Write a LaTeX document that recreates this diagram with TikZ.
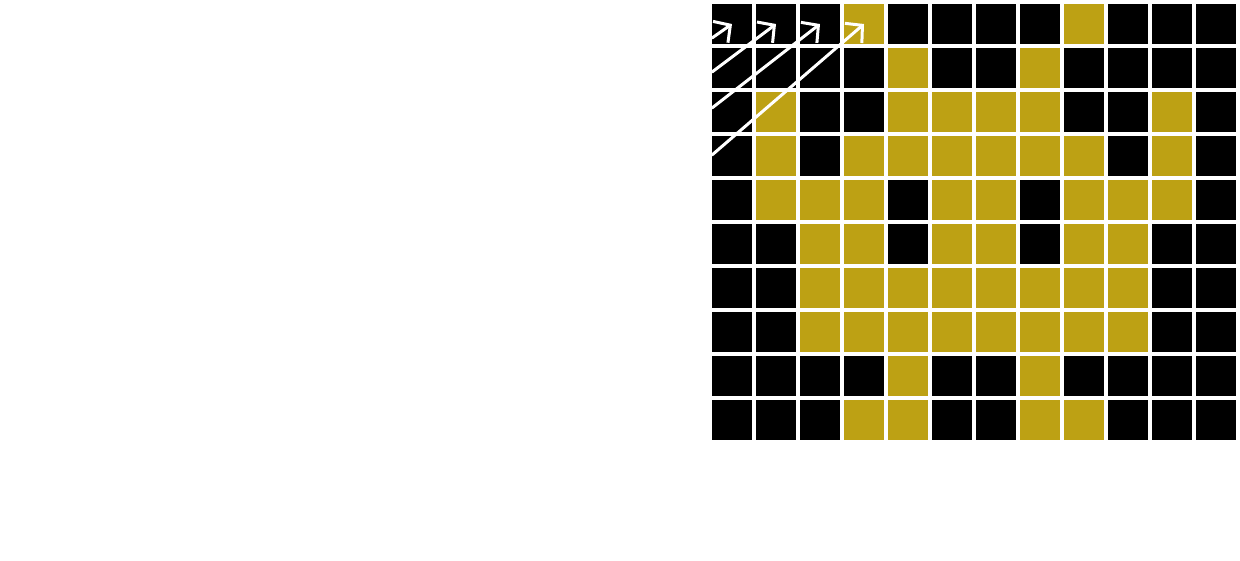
\documentclass[tikz,border=0pt]{standalone}
\usetikzlibrary{arrows.meta}
\definecolor{gold}{RGB}{189,161,20}
\begin{document}
\begin{tikzpicture}[x=1pt,y=-1pt,
  cell/.style={minimum size=40pt,inner sep=0pt,outer sep=0pt,draw=none,fill=black},
  gcell/.style={cell,fill=gold},
  pointer/.style={draw=white,line width=3pt,line cap=round,
    -{Straight Barb[length=12pt,width=26pt,line width=3pt]}}]
\useasboundingbox[fill=white] (0,0) rectangle (1240,560);
\foreach \pat [count=\r from 0] in {
  {0,0,0,1,0,0,0,0,1,0,0,0},
  {0,0,0,0,1,0,0,1,0,0,0,0},
  {0,1,0,0,1,1,1,1,0,0,1,0},
  {0,1,0,1,1,1,1,1,1,0,1,0},
  {0,1,1,1,0,1,1,0,1,1,1,0},
  {0,0,1,1,0,1,1,0,1,1,0,0},
  {0,0,1,1,1,1,1,1,1,1,0,0},
  {0,0,1,1,1,1,1,1,1,1,0,0},
  {0,0,0,0,1,0,0,1,0,0,0,0},
  {0,0,0,1,1,0,0,1,1,0,0,0}}{
  \foreach \v [count=\c from 0] in \pat {
    \ifnum\v=1
      \node[gcell] (c-\r-\c) at ({732+44*\c},{24+44*\r}) {};
    \else
      \node[cell] (c-\r-\c) at ({732+44*\c},{24+44*\r}) {};
    \fi
  }
}
\coordinate (s1) at (712,38);
\coordinate (s2) at (712,72);
\coordinate (s3) at (712,108);
\coordinate (s4) at (712,155);
\draw[pointer] (s1) -- (c-0-0.center);
\draw[pointer] (s2) -- (c-0-1.center);
\draw[pointer] (s3) -- (c-0-2.center);
\draw[pointer] (s4) -- (c-0-3.center);
\end{tikzpicture}
\end{document}
